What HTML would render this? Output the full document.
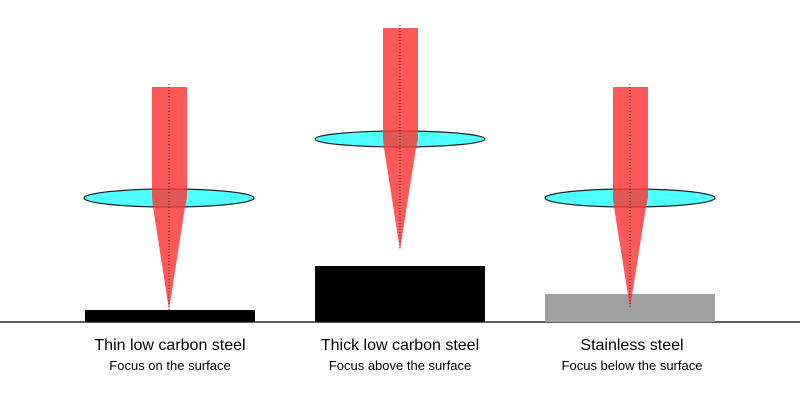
<!DOCTYPE html>
<html><head><style>body{margin:0;background:#fff}</style></head><body>
<svg width="800" height="400" xmlns="http://www.w3.org/2000/svg" font-family="Liberation Sans, sans-serif">
<rect width="800" height="400" fill="#fff"/>
<line x1="0" y1="322" x2="800" y2="322" stroke="#000" stroke-width="1.2"/>
<rect x="85" y="310" width="170" height="12" fill="#000"/>
<rect x="315" y="266" width="170" height="56" fill="#000"/>
<rect x="545" y="294" width="170" height="28" fill="#a0a0a0"/>
<g id="a">
<ellipse cx="169" cy="198" rx="85" ry="9" fill="#4dffff" stroke="#222" stroke-width="1.2"/>
<polygon points="152,87 187,87 187,198 185,207 169,310 153,207 152,198" fill="#ff3333" fill-opacity="0.82"/>
<line x1="169" y1="84" x2="169" y2="310" stroke="#333" stroke-width="1" stroke-dasharray="1,2"/>
</g>
<g>
<ellipse cx="400" cy="139" rx="85" ry="8" fill="#4dffff" stroke="#222" stroke-width="1.2"/>
<polygon points="383,28 418,28 418,139 416,148 400,250 384,148 383,139" fill="#ff3333" fill-opacity="0.82"/>
<line x1="400" y1="25" x2="400" y2="250" stroke="#333" stroke-width="1" stroke-dasharray="1,2"/>
</g>
<g>
<ellipse cx="630" cy="198" rx="85" ry="9" fill="#4dffff" stroke="#222" stroke-width="1.2"/>
<polygon points="613,87 648,87 648,198 646,207 630,308 614,207 613,198" fill="#ff3333" fill-opacity="0.82"/>
<line x1="630" y1="84" x2="630" y2="308" stroke="#333" stroke-width="1" stroke-dasharray="1,2"/>
</g>
<g text-anchor="middle" fill="#000">
<text x="170" y="350" font-size="16">Thin low carbon steel</text>
<text x="170" y="370" font-size="13">Focus on the surface</text>
<text x="400" y="350" font-size="16">Thick low carbon steel</text>
<text x="400" y="370" font-size="13">Focus above the surface</text>
<text x="632" y="350" font-size="16">Stainless steel</text>
<text x="632" y="370" font-size="13">Focus below the surface</text>
</g>
</svg>
</body></html>
